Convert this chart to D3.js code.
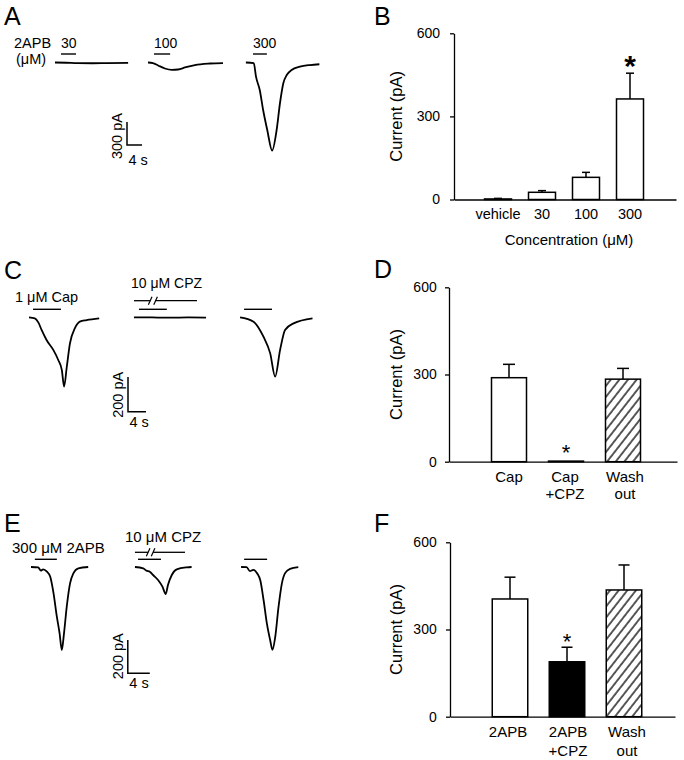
<!DOCTYPE html>
<html><head><meta charset="utf-8">
<script src="https://cdn.jsdelivr.net/npm/d3@7"></script>
<style>
body{margin:0;background:#fff}
svg{display:block}
text{font-family:"Liberation Sans",Arial,Helvetica,sans-serif;fill:#000}
</style>
</head><body>
<svg id="fig" width="684" height="760"></svg>
<script>
// ---------------- DATA ----------------
// Bar chart B: 2APB concentration response
const concCategories = ["vehicle", "30", "100", "300"];
const concMeans = [2, 26, 80, 363];
const concSEM = [2, 6, 18, 93];
const concSig = [false, false, false, true];

// Bar chart D: capsaicin +/- capsazepine
const capCategories = [["Cap"], ["Cap", "+CPZ"], ["Wash", "out"]];
const capMeans = [289, 2, 284];
const capSEM = [46, 0, 37];
const capSig = [false, true, false];
const capFill = ["white", "white", "hatch"];

// Bar chart F: 2APB +/- capsazepine
const apbCategories = [["2APB"], ["2APB", "+CPZ"], ["Wash", "out"]];
const apbMeans = [405, 189, 436];
const apbSEM = [75, 50, 86];
const apbSig = [false, true, false];
const apbFill = ["white", "black", "hatch"];

const yTickValues = [0, 300, 600];

// Current traces: [time (s), current (pA)]
const traceA30 = [[0,0],[3,-3],[6,-8],[10,-10],[14,-7],[19.5,-4]];
const traceA100 = [[0,0],[1.3,-7],[2.7,-39],[4.5,-78],[6.4,-95],[8,-91],[9.9,-65],[12.5,-33],[16.5,-13],[20,-7]];
const traceA300 = [[0,0],[2.1,-7],[2.7,-185],[3.7,-359],[4.6,-619],[5.7,-880],[7.0,-1147],[8.2,-880],[9.1,-528],[10,-267],[10.9,-163],[12.2,-98],[14.4,-55],[17.1,-33],[19.6,-23]];
const stimA = [[1.6,5.6],[1.6,5.9],[1.9,5.6]];
const stimALabels = ["30", "100", "300"];

const traceC1 = [[0,0],[1.3,-6],[2.1,-31],[2.8,-73],[3.9,-131],[5.4,-188],[6.5,-246],[7.3,-304],[7.8,-399],[8.4,-285],[9.1,-150],[10.2,-63],[11.3,-25],[12.8,-16],[15.6,-6]];
const traceC2 = [[0,0],[4,-1],[8,-2],[12,-1],[16,-2]];
const traceC3 = [[0,0],[3,-25],[5.2,-112],[6.7,-208],[7.8,-342],[8.9,-188],[10,-73],[11.9,-35],[16.1,-6]];
const stimC = [[0.9,7.1],[1.1,7.3],[0.9,7.1]];
const cpzC = [0, 14];
const cpzBreakC = [3.6, 4.8];

const traceE1 = [[0,0],[1.3,-2],[1.8,-22],[2.2,-14],[2.9,-28],[3.5,-58],[4.1,-158],[4.7,-298],[5.2,-398],[5.6,-498],[6,-398],[6.5,-238],[7.1,-98],[7.7,-38],[8.6,-8],[10.4,0]];
const traceE2 = [[0,0],[1.5,-8],[2.1,-22],[2.7,-28],[3.3,-48],[4.2,-78],[5,-118],[5.6,-162],[6,-108],[6.7,-48],[7.6,-14],[9.4,-2],[10.3,0]];
const traceE3 = [[0,0],[1,-1],[1.6,-25],[2.2,-17],[2.9,-37],[3.5,-81],[4.1,-201],[4.7,-341],[5.3,-441],[5.7,-497],[6.2,-421],[6.8,-241],[7.4,-101],[8,-37],[8.9,-11],[10.4,-1]];
const stimE = [[0.7,4.7],[0.55,4.73],[0.55,4.73]];
const cpzE = [0, 9.1];
const cpzBreakE = [2.4, 3.3];

// ---------------- DRAWING ----------------
const svg = d3.select("#fig");
const defs = svg.append("defs");
defs.append("pattern").attr("id","hatch").attr("patternUnits","userSpaceOnUse")
  .attr("width",6.8).attr("height",10).attr("patternTransform","rotate(38)")
  .append("line").attr("x1",1).attr("x2",1).attr("y1",-1).attr("y2",11)
  .attr("stroke","#000").attr("stroke-width",1.3);

function panelLetter(t, x, y){
  svg.append("text").attr("x",x).attr("y",y).attr("font-size",25).text(t);
}
panelLetter("A",4,25); panelLetter("B",374,25);
panelLetter("C",4,279); panelLetter("D",374,278);
panelLetter("E",4,532); panelLetter("F",374,532);

function tracePanel(o){
  const x = d3.scaleLinear().domain([0,1]).range([o.x0, o.x0 + o.pxPerS]);
  const y = d3.scaleLinear().domain([0,-1]).range([o.base, o.base + o.pxPerPA]);
  const g = svg.append("g");
  const line = d3.line().curve(d3.curveMonotoneX);
  o.traces.forEach((tr,i)=>{
    const off = o.offsets[i];
    g.append("path")
      .attr("d", line.x(d=>x(d[0]+off)).y(d=>y(d[1]))(tr))
      .attr("fill","none").attr("stroke","#000").attr("stroke-width",1.8)
      .attr("stroke-linejoin","round");
    const s = o.stims[i];
    const sy = o.base - o.stimDy;
    g.append("line").attr("x1",x(s[0]+off)).attr("x2",x(s[1]+off))
      .attr("y1",sy).attr("y2",sy).attr("stroke","#000").attr("stroke-width",1.4);
    if (o.stimLabels) {
      g.append("text").attr("x",x(s[0]+off)).attr("y",sy-5.7)
        .attr("font-size",14).text(o.stimLabels[i]);
    }
  });
  if (o.cpz){
    const off = o.offsets[1];
    const cy = o.base - o.cpzDy;
    const xa = x(o.cpz[0]+off), xb = x(o.cpzBreak[0]+off), xc = x(o.cpzBreak[1]+off), xd = x(o.cpz[1]+off);
    g.append("line").attr("x1",xa).attr("x2",xb).attr("y1",cy).attr("y2",cy).attr("stroke","#000").attr("stroke-width",1.3);
    g.append("line").attr("x1",xc).attr("x2",xd).attr("y1",cy).attr("y2",cy).attr("stroke","#000").attr("stroke-width",1.3);
    [xb, xc].forEach(xx=>{
      g.append("line").attr("x1",xx-1.8).attr("x2",xx+1.8).attr("y1",cy+4).attr("y2",cy-4)
        .attr("stroke","#000").attr("stroke-width",1.2);
    });
  }
  // scale bar
  const sx = x(o.sbTime), syTop = y(o.sbLevel), syBot = y(o.sbLevel - o.sbPA);
  g.append("path").attr("d", `M${sx},${syTop}V${syBot}H${x(o.sbTime + o.sbS)}`)
    .attr("fill","none").attr("stroke","#000").attr("stroke-width",1.5);
  g.append("text").attr("transform",`translate(${sx-5},${(syTop+syBot)/2 + o.sbLabelShift}) rotate(-90)`)
    .attr("text-anchor","middle").attr("font-size",14.5).text(o.sbPA + " pA");
  g.append("text").attr("x",sx+1.5).attr("y",syBot+o.sbSDy).attr("font-size",14.5).text(o.sbS + " s");
  return {x,y,g};
}

// Panel A
tracePanel({
  x0:55, pxPerS:3.75, base:62.5, pxPerPA:0.0767,
  traces:[traceA30, traceA100, traceA300], offsets:[0,24.8,50.9],
  stims:stimA, stimDy:8.5, stimLabels:stimALabels,
  sbTime:19.2, sbLevel:-776, sbPA:300, sbS:4, sbLabelShift:2.5, sbSDy:19.5
});
svg.append("text").attr("x",14).attr("y",48.3).attr("font-size",14.5).text("2APB");
svg.append("text").attr("x",16).attr("y",63.5).attr("font-size",14.5).text("(μM)");

// Panel C
tracePanel({
  x0:29, pxPerS:4.5, base:317.3, pxPerPA:0.1735,
  traces:[traceC1, traceC2, traceC3], offsets:[0,23.33,46.9],
  stims:stimC, stimDy:8,
  cpz:cpzC, cpzBreak:cpzBreakC, cpzDy:16.6,
  sbTime:22, sbLevel:-344, sbPA:200, sbS:4, sbLabelShift:0.5, sbSDy:15
});
svg.append("text").attr("x",15).attr("y",302.3).attr("font-size",14.5).text("1 μM Cap");
svg.append("text").attr("x",131).attr("y",288.3).attr("font-size",14).text("10 μM CPZ");

// Panel E
tracePanel({
  x0:31, pxPerS:5.5, base:567, pxPerPA:0.1667,
  traces:[traceE1, traceE2, traceE3], offsets:[0,18.9,38.2],
  stims:stimE, stimDy:7.7,
  cpz:cpzE, cpzBreak:cpzBreakE, cpzDy:14.7,
  sbTime:17.6, sbLevel:-438, sbPA:200, sbS:4, sbLabelShift:-0.5, sbSDy:15
});
svg.append("text").attr("x",12).attr("y",553.3).attr("font-size",15).text("300 μM 2APB");
svg.append("text").attr("x",125).attr("y",541.7).attr("font-size",15).text("10 μM CPZ");

// Bar panels
function barPanel(o){
  const g = svg.append("g");
  const keys = o.cats.map((c,i)=> Array.isArray(c) ? c.join(" ") : c);
  const x = d3.scalePoint().domain(keys).range(o.xr);
  const y = d3.scaleLinear().domain([0,600]).range(o.yr);
  // y axis
  const ya = g.append("g").attr("transform",`translate(${o.axisX},0)`)
    .call(d3.axisLeft(y).tickValues(yTickValues).tickSize(4).tickSizeOuter(0).tickPadding(o.tickPad));
  ya.selectAll("path,line").attr("stroke","#000").attr("stroke-width",1.3);
  ya.selectAll("text").attr("font-size",14).attr("font-family","Liberation Sans, Arial, sans-serif");
  // x axis baseline
  const xl = d3.scaleLinear().domain([0,1]).range([o.axisX, o.axisEnd]);
  const xa = g.append("g").attr("transform",`translate(0,${y(0)})`)
    .call(d3.axisBottom(xl).tickValues([]).tickSizeOuter(0));
  xa.select("path").attr("stroke","#000").attr("stroke-width",1.3);
  // bars
  keys.forEach((k,i)=>{
    const cx = x(k), v = o.means[i], e = o.sem[i];
    const fill = o.fills ? (o.fills[i]==="hatch" ? "url(#hatch)" : o.fills[i]) : "white";
    if (e > 0) {
      g.append("line").attr("x1",cx).attr("x2",cx).attr("y1",y(v)).attr("y2",y(v+e))
        .attr("stroke","#000").attr("stroke-width",1.5);
      g.append("line").attr("x1",cx-o.cap/2).attr("x2",cx+o.cap/2).attr("y1",y(v+e)).attr("y2",y(v+e))
        .attr("stroke","#000").attr("stroke-width",1.5);
    }
    g.append("rect").attr("x",cx-o.bw/2).attr("y",y(v)).attr("width",o.bw).attr("height",y(0)-y(v))
      .attr("fill",fill).attr("stroke","#000").attr("stroke-width",1.5);
    if (o.sig[i]) {
      g.append("text").attr("x",cx).attr("y",y(v+e) - o.starGap + 0.58*o.starSize)
        .attr("text-anchor","middle").attr("font-size",o.starSize).attr("font-weight",o.starWeight||"normal").text("*");
    }
    const lines = Array.isArray(o.cats[i]) ? o.cats[i] : [o.cats[i]];
    lines.forEach((t,j)=>{
      g.append("text").attr("x",cx + (o.labelShift ? o.labelShift[i] : 0)).attr("y",y(0)+o.labelDy + j*o.lineH)
        .attr("text-anchor","middle").attr("font-size",o.labelSize).text(t);
    });
  });
  // y title
  g.append("text").attr("transform",`translate(${o.titleX},${(y(0)+y(600))/2}) rotate(-90)`)
    .attr("text-anchor","middle").attr("font-size",16.5).text("Current (pA)");
  return {x,y,g};
}

const pB = barPanel({
  cats:concCategories, means:concMeans, sem:concSEM, sig:concSig,
  xr:[498,630], yr:[199.5,33.3], axisX:454, axisEnd:676, tickPad:10,
  bw:27, cap:8, starGap:15, starSize:30, starWeight:"bold",
  labelDy:19.5, lineH:17, labelSize:14.5, titleX:402
});
pB.g.append("text").attr("x",569).attr("y",245).attr("text-anchor","middle").attr("font-size",15).text("Concentration (μM)");

barPanel({
  cats:capCategories, means:capMeans, sem:capSEM, sig:capSig, fills:capFill,
  xr:[509,623], yr:[461.7,287.3], axisX:449, axisEnd:677, tickPad:8.3,
  bw:35, cap:12, starGap:13.4, starSize:22,
  labelDy:20.3, lineH:17.3, labelSize:15, titleX:402, labelShift:[0,-1,2]
});

barPanel({
  cats:apbCategories, means:apbMeans, sem:apbSEM, sig:apbSig, fills:apbFill,
  xr:[510,624], yr:[716.7,542.3], axisX:450, axisEnd:675, tickPad:9.3,
  bw:35.5, cap:11, starGap:11.3, starSize:22,
  labelDy:20, lineH:19.3, labelSize:15, titleX:402, labelShift:[-2,1,3]
});
</script>
</body></html>
